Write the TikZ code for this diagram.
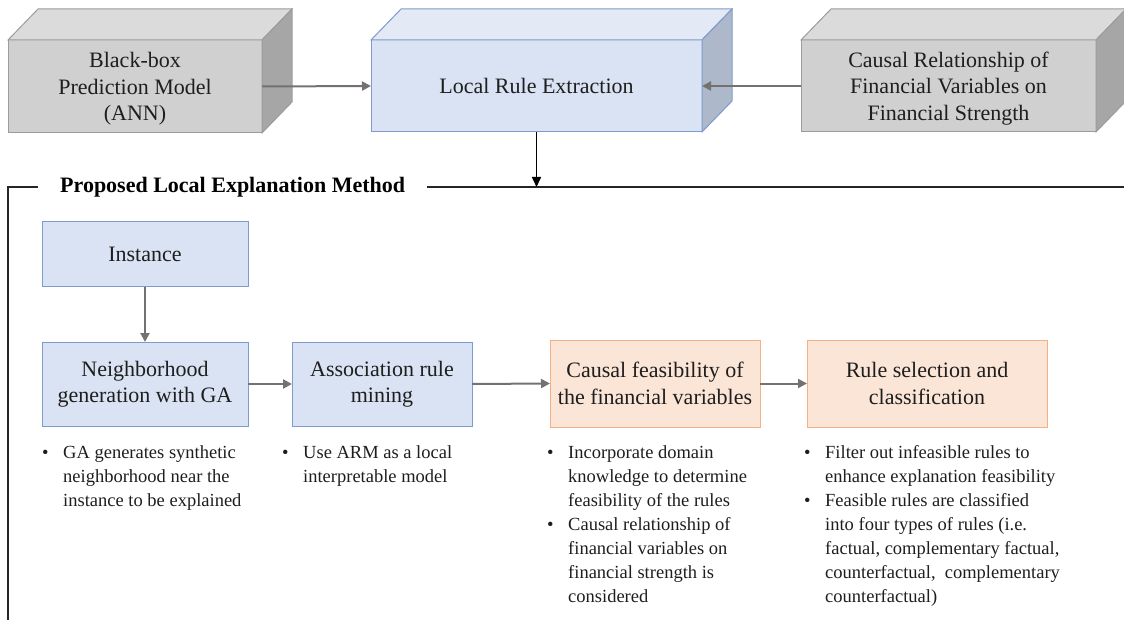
\documentclass[tikz,border=0pt]{standalone}
\usepackage{xcolor}
\usepackage{fontspec}
\setmainfont{Liberation Serif}
\usepackage{tikz}
\usetikzlibrary{arrows.meta}

\definecolor{grayfront}{HTML}{D0D0D0}
\definecolor{graytop}{HTML}{DBDBDB}
\definecolor{grayside}{HTML}{A6A6A6}
\definecolor{grayline}{HTML}{9C9C9C}
\definecolor{bluefront}{HTML}{DAE3F3}
\definecolor{bluetop}{HTML}{E3E9F5}
\definecolor{blueside}{HTML}{ADB9CA}
\definecolor{blueline}{HTML}{7D9CCB}
\definecolor{orgfront}{HTML}{FBE5D6}
\definecolor{orgline}{HTML}{F4B183}
\definecolor{arrowgray}{HTML}{767171}
\definecolor{inktext}{HTML}{1E1E1E}

\tikzset{
  box/.style={line width=1pt, outer sep=0pt, inner sep=2pt, align=center,
    text=inktext, font=\fontsize{22}{26.5}\selectfont},
  graybox/.style={box, draw=grayline, fill=grayfront},
  bluebox/.style={box, draw=blueline, fill=bluefront},
  orgbox/.style={box, draw=orgline, fill=orgfront},
  garrow/.style={draw=arrowgray, line width=2pt, -{Triangle[length=9pt,width=9pt]}},
  barrow/.style={draw=black, line width=1.6pt, -{Triangle[length=10pt,width=9pt]}},
  frame/.style={draw=black!85, line width=2pt},
  notes/.style={anchor=north west, inner sep=0pt, align=left, text=inktext,
    font=\fontsize{18.5}{24}\selectfont},
}
\newcommand{\bl}{\makebox[21pt][l]{\textbullet}}
\newcommand{\ind}{\hspace*{21pt}}

\begin{document}
\begin{tikzpicture}[x=1pt, y=-1pt]
    \useasboundingbox (0,0) rectangle (1124,620);

    % top row: cuboids
    \node[graybox, minimum width=254, minimum height=93] (bbm) at (135,86.5) {\\[-6pt]Black-box\\Prediction Model\\(ANN)};
    \filldraw[fill=graytop, draw=grayline, line width=1pt] (bbm.north west) -- ++(30,-31) -- ++(254,0) -- (bbm.north east) -- cycle;
    \filldraw[fill=grayside, draw=grayline, line width=1pt] (bbm.north east) -- ++(30,-31) -- ++(0,93) -- (bbm.south east) -- cycle;

    \node[bluebox, minimum width=331, minimum height=92] (lre) at (536.5,86) {Local Rule Extraction};
    \filldraw[fill=bluetop, draw=blueline, line width=1pt] (lre.north west) -- ++(30,-31) -- ++(331,0) -- (lre.north east) -- cycle;
    \filldraw[fill=blueside, draw=blueline, line width=1pt] (lre.north east) -- ++(30,-31) -- ++(0,92) -- (lre.south east) -- cycle;

    \node[graybox, minimum width=295, minimum height=92] (crf) at (948.5,86) {\\[-6pt]Causal Relationship of\\Financial Variables on\\Financial Strength};
    \filldraw[fill=graytop, draw=grayline, line width=1pt] (crf.north west) -- ++(30,-31) -- ++(295,0) -- (crf.north east) -- cycle;
    \filldraw[fill=grayside, draw=grayline, line width=1pt] (crf.north east) -- ++(30,-31) -- ++(0,92) -- (crf.south east) -- cycle;

    \draw[garrow] (bbm.east) -- (lre.west);
    \draw[garrow] (crf.west) -- (lre.east);

    % frame of the method
    \node[anchor=west, inner xsep=22pt, inner ysep=0pt, text=black, font=\bfseries\fontsize{22}{24}\selectfont] (ttl) at (38,187) {Proposed Local Explanation Method};
    \coordinate (fcorner) at (8,187);
    \coordinate (fbottom) at (8,625);
    \coordinate (fright) at (1130,187);
    \draw[frame] (fbottom) -- (fcorner) -- (ttl.west);
    \draw[frame] (ttl.east) -- (fright);
    \draw[barrow] (lre.south) -- (lre.south |- ttl.east);

    % steps
    \node[bluebox, minimum width=206, minimum height=65] (inst) at (145,254.5) {Instance};
    \node[bluebox, minimum width=206, minimum height=84] (nbh) at (145,384) {Neighborhood\\generation with GA};
    \node[bluebox, minimum width=180, minimum height=84] (arm) at (382,384) {Association rule\\mining};
    \node[orgbox, minimum width=210, minimum height=87] (cfv) at (655,383.5) {Causal feasibility of\\the financial variables};
    \node[orgbox, minimum width=240, minimum height=87] (rsc) at (927,383.5) {Rule selection and\\classification};

    \draw[garrow] (inst.south) -- (nbh.north);
    \draw[garrow] (nbh.east) -- (arm.west);
    \draw[garrow] (arm.east) -- (cfv.west);
    \draw[garrow] (cfv.east) -- (rsc.west);

    % notes under the steps
    \node[notes] (n1) at (42,445) {\bl GA generates synthetic\\\ind neighborhood near the\\\ind instance to be explained};
    \node[notes] (n2) at (282,445) {\bl Use ARM as a local\\\ind interpretable model};
    \node[notes] (n3) at (547,445) {\bl Incorporate domain\\\ind knowledge to determine\\\ind feasibility of the rules\\\bl Causal relationship of\\\ind financial variables on\\\ind financial strength is\\\ind considered};
    \node[notes] (n4) at (804,445) {\bl Filter out infeasible rules to\\\ind enhance explanation feasibility\\\bl Feasible rules are classified\\\ind into four types of rules (i.e.\\\ind factual, complementary factual,\\\ind counterfactual,~ complementary\\\ind counterfactual)};
\end{tikzpicture}
\end{document}
